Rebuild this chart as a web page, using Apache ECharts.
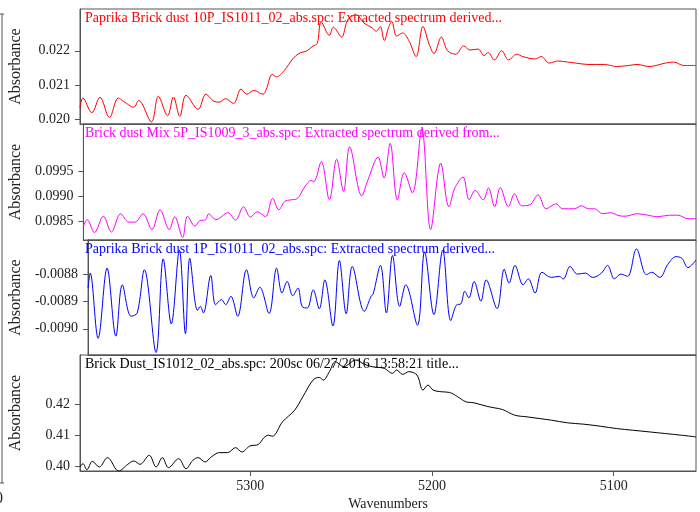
<!DOCTYPE html>
<html>
<head>
<meta charset="utf-8">
<script src="https://cdn.jsdelivr.net/npm/echarts@6/dist/echarts.min.js"></script>
<style>
html, body { margin: 0; padding: 0; background: #fff; }
#chart { width: 700px; height: 512px; }
</style>
</head>
<body>
<div id="chart"></div>
<script>
// spectra: wavenumber + absorbance per trace
var wnRed = [5393.6, 5392.0, 5387.1, 5382.6, 5377.4, 5372.5, 5369.6, 5364.0, 5361.3, 5354.3, 5350.5, 5345.4, 5342.2, 5338.7, 5335.3, 5328.6, 5324.3, 5319.8, 5316.9, 5313.6, 5309.1, 5305.0, 5301.9, 5297.9, 5292.9, 5291.2, 5287.8, 5285.5, 5281.1, 5276.6, 5273.2, 5268.7, 5265.4, 5263.1, 5260.9, 5256.4, 5254.2, 5249.7, 5246.3, 5241.8, 5237.4, 5232.9, 5230.6, 5228.4, 5226.2, 5223.9, 5222.1, 5219.4, 5216.1, 5212.7, 5208.7, 5204.9, 5201.5, 5198.8, 5194.8, 5191.4, 5186.9, 5182.5, 5179.1, 5174.6, 5171.3, 5169.0, 5165.7, 5161.6, 5157.8, 5153.3, 5150.0, 5143.2, 5139.9, 5135.4, 5130.9, 5125.3, 5120.8, 5114.1, 5105.1, 5098.4, 5091.7, 5087.2, 5080.5, 5071.5, 5067.1, 5061.4, 5054.7];
var absRed = [0.02033, 0.02062, 0.02019, 0.02064, 0.02005, 0.02062, 0.02052, 0.02035, 0.02055, 0.01992, 0.02067, 0.02010, 0.02065, 0.02008, 0.02070, 0.02029, 0.02073, 0.02052, 0.02050, 0.02060, 0.02046, 0.02088, 0.02073, 0.02084, 0.02073, 0.02086, 0.02131, 0.02124, 0.02143, 0.02176, 0.02192, 0.02200, 0.02214, 0.02221, 0.02284, 0.02245, 0.02269, 0.02240, 0.02290, 0.02305, 0.02281, 0.02267, 0.02257, 0.02271, 0.02230, 0.02267, 0.02286, 0.02243, 0.02252, 0.02230, 0.02183, 0.02271, 0.02219, 0.02192, 0.02240, 0.02200, 0.02190, 0.02214, 0.02202, 0.02205, 0.02186, 0.02195, 0.02173, 0.02200, 0.02173, 0.02190, 0.02183, 0.02176, 0.02183, 0.02164, 0.02170, 0.02167, 0.02164, 0.02160, 0.02160, 0.02154, 0.02157, 0.02160, 0.02154, 0.02164, 0.02167, 0.02157, 0.02157];

var wnMag = [5393.6, 5391.5, 5387.5, 5382.6, 5378.1, 5373.0, 5368.5, 5365.1, 5360.6, 5355.7, 5351.2, 5346.1, 5343.1, 5338.7, 5336.0, 5331.9, 5329.2, 5325.9, 5324.3, 5320.3, 5313.6, 5309.5, 5305.0, 5301.2, 5297.4, 5292.9, 5288.9, 5285.5, 5282.2, 5278.8, 5275.5, 5271.0, 5267.6, 5266.1, 5262.0, 5257.5, 5253.5, 5249.7, 5246.3, 5239.6, 5236.2, 5230.6, 5227.3, 5223.9, 5219.9, 5216.1, 5211.6, 5206.4, 5201.5, 5195.9, 5191.4, 5188.1, 5183.6, 5180.2, 5176.9, 5172.4, 5169.5, 5166.1, 5163.0, 5158.5, 5155.1, 5151.1, 5146.6, 5142.1, 5137.6, 5132.0, 5128.7, 5121.9, 5118.1, 5114.1, 5110.8, 5106.3, 5101.8, 5097.3, 5093.9, 5087.2, 5082.7, 5076.0, 5069.3, 5064.8, 5059.2, 5054.7];
var absMag = [0.09840, 0.09853, 0.09827, 0.09860, 0.09828, 0.09865, 0.09848, 0.09848, 0.09865, 0.09833, 0.09873, 0.09833, 0.09859, 0.09817, 0.09860, 0.09840, 0.09851, 0.09853, 0.09865, 0.09853, 0.09867, 0.09852, 0.09879, 0.09858, 0.09869, 0.09859, 0.09896, 0.09873, 0.09890, 0.09893, 0.09895, 0.09920, 0.09932, 0.09930, 0.09970, 0.09893, 0.09975, 0.09910, 0.10000, 0.09901, 0.09933, 0.09979, 0.09937, 0.10007, 0.09893, 0.09948, 0.09907, 0.10037, 0.09833, 0.09967, 0.09879, 0.09917, 0.09939, 0.09893, 0.09912, 0.09893, 0.09917, 0.09879, 0.09918, 0.09879, 0.09905, 0.09881, 0.09883, 0.09903, 0.09875, 0.09885, 0.09875, 0.09875, 0.09881, 0.09875, 0.09875, 0.09865, 0.09867, 0.09861, 0.09860, 0.09865, 0.09863, 0.09859, 0.09862, 0.09862, 0.09855, 0.09855];

var wnBlue = [5393.6, 5392.4, 5388.0, 5383.0, 5378.1, 5374.5, 5369.6, 5366.2, 5362.2, 5355.7, 5351.7, 5347.2, 5342.7, 5339.3, 5336.9, 5332.6, 5331.0, 5329.3, 5325.2, 5322.5, 5319.2, 5316.9, 5314.0, 5310.2, 5305.3, 5301.2, 5297.9, 5292.7, 5288.5, 5285.5, 5282.6, 5279.5, 5276.6, 5274.3, 5271.4, 5268.1, 5264.7, 5261.6, 5257.1, 5253.5, 5249.7, 5246.3, 5239.6, 5235.8, 5234.7, 5230.6, 5227.3, 5223.9, 5219.9, 5216.5, 5210.0, 5206.0, 5200.8, 5195.9, 5191.4, 5188.1, 5185.8, 5183.6, 5181.3, 5178.4, 5174.6, 5171.7, 5165.6, 5161.6, 5158.9, 5155.6, 5151.1, 5148.2, 5144.4, 5140.6, 5135.4, 5130.9, 5128.7, 5124.9, 5120.8, 5116.4, 5112.3, 5107.4, 5104.0, 5100.2, 5096.6, 5092.8, 5087.9, 5082.3, 5079.4, 5074.9, 5070.4, 5065.9, 5062.6, 5059.2, 5054.7];
var absBlue = [-0.008851, -0.008796, -0.009035, -0.008778, -0.009027, -0.008839, -0.008954, -0.008942, -0.008784, -0.009087, -0.008744, -0.008982, -0.008712, -0.009018, -0.008742, -0.008933, -0.008918, -0.008942, -0.008805, -0.008912, -0.008893, -0.008912, -0.008881, -0.008954, -0.008784, -0.008887, -0.008848, -0.008944, -0.008778, -0.008869, -0.008827, -0.008879, -0.008851, -0.008918, -0.008924, -0.008857, -0.008927, -0.008821, -0.008990, -0.008750, -0.008945, -0.008772, -0.008936, -0.008881, -0.008873, -0.008768, -0.008942, -0.008732, -0.008918, -0.008839, -0.008987, -0.008718, -0.008948, -0.008712, -0.008970, -0.008912, -0.008909, -0.008863, -0.008887, -0.008827, -0.008899, -0.008821, -0.008926, -0.008782, -0.008833, -0.008768, -0.008839, -0.008817, -0.008869, -0.008793, -0.008812, -0.008808, -0.008818, -0.008772, -0.008800, -0.008796, -0.008812, -0.008796, -0.008768, -0.008817, -0.008800, -0.008808, -0.008708, -0.008802, -0.008793, -0.008812, -0.008764, -0.008736, -0.008742, -0.008776, -0.008748];

var wnBlack = [5393.6, 5392.0, 5389.8, 5386.8, 5383.0, 5378.5, 5372.3, 5367.3, 5364.0, 5360.6, 5355.5, 5351.7, 5348.3, 5344.9, 5339.3, 5335.3, 5331.5, 5328.6, 5324.8, 5321.4, 5316.9, 5312.4, 5308.0, 5304.6, 5300.1, 5295.6, 5292.3, 5290.0, 5287.8, 5282.2, 5275.5, 5271.0, 5265.4, 5262.0, 5259.8, 5256.4, 5253.1, 5248.6, 5241.8, 5237.4, 5232.9, 5226.2, 5221.7, 5219.4, 5216.1, 5212.7, 5208.2, 5204.9, 5202.2, 5199.3, 5194.8, 5190.3, 5185.8, 5181.3, 5176.9, 5170.1, 5165.7, 5161.2, 5154.4, 5147.7, 5141.0, 5134.3, 5125.3, 5116.4, 5107.4, 5098.4, 5089.5, 5080.5, 5071.5, 5062.6, 5054.7];
var absBlack = [0.39978, 0.40086, 0.39892, 0.40161, 0.39978, 0.40280, 0.39849, 0.40065, 0.40172, 0.40065, 0.40355, 0.39978, 0.40280, 0.39957, 0.40247, 0.39925, 0.40194, 0.40280, 0.40140, 0.40301, 0.40441, 0.40441, 0.40602, 0.40462, 0.40656, 0.40699, 0.40925, 0.41000, 0.40968, 0.41430, 0.41806, 0.42237, 0.42774, 0.42860, 0.42774, 0.43043, 0.43366, 0.43204, 0.43419, 0.43290, 0.43204, 0.43151, 0.42989, 0.43097, 0.42957, 0.43043, 0.42935, 0.42452, 0.42613, 0.42452, 0.42398, 0.42376, 0.42237, 0.42075, 0.42043, 0.41935, 0.41882, 0.41828, 0.41645, 0.41591, 0.41538, 0.41484, 0.41398, 0.41355, 0.41290, 0.41215, 0.41161, 0.41108, 0.41054, 0.41000, 0.40946];

var titles = [
    'Paprika Brick dust 10P_IS1011_02_abs.spc: Extracted spectrum derived...',
    'Brick dust Mix 5P_IS1009_3_abs.spc: Extracted spectrum derived from...',
    'Paprika Brick dust 1P_IS1011_02_abs.spc: Extracted spectrum derived...',
    'Brick Dust_IS1012_02_abs.spc: 200sc 06/27/2016 13:58:21 title...'
];
var colors = ['#ff0000', '#ff00ff', '#0000ff', '#000000'];

// tick labels
var xTicks = [5300, 5200, 5100];
var yTicks = [
    [0.020, 0.021, 0.022],
    [0.0985, 0.0990, 0.0995],
    [-0.0090, -0.0089, -0.0088],
    [0.40, 0.41, 0.42]
];
var yDecimals = [3, 4, 4, 2];
var yRange = [[0.01986, 0.02322], [0.09812, 0.10046], [-0.009096, -0.008675], [0.3985, 0.4358]];

var FONT = 'Liberation Serif';

function zip(a, b) {
    var out = [];
    for (var i = 0; i < a.length; i++) out.push([a[i], b[i]]);
    return out;
}
var seriesData = [zip(wnRed, absRed), zip(wnMag, absMag), zip(wnBlue, absBlue), zip(wnBlack, absBlack)];

var gridPos = [[9, 115], [124, 116], [240, 115], [355, 116]];

var grids = [], xAxes = [], yAxes = [], series = [], titleList = [];
for (var i = 0; i < 4; i++) {
    var last = i === 3;
    grids.push({ left: 78, right: 4, top: gridPos[i][0], height: gridPos[i][1], show: true, borderColor: '#555', borderWidth: 1 });
    xAxes.push({
        type: 'value', gridIndex: i, inverse: true, min: 5054.7, max: 5393.6,
        splitLine: { show: false },
        axisLine: { show: true, lineStyle: { color: '#555' } },
        axisTick: { show: last, length: 5, lineStyle: { color: '#555' }, customValues: xTicks },
        axisLabel: {
            show: last, customValues: xTicks, margin: 8, fontFamily: FONT, fontSize: 14, color: '#222',
            formatter: function (v) { return String(v); }
        },
        name: last ? 'Wavenumbers' : '', nameLocation: 'middle', nameGap: 26,
        nameTextStyle: { fontFamily: FONT, fontSize: 14, color: '#222' }
    });
    yAxes.push({
        type: 'value', gridIndex: i, min: yRange[i][0], max: yRange[i][1],
        splitLine: { show: false },
        axisLine: { show: true, lineStyle: { color: '#555' } },
        axisTick: { show: true, length: 5, lineStyle: { color: '#555' }, customValues: yTicks[i] },
        axisLabel: {
            customValues: yTicks[i], margin: 10, fontFamily: FONT, fontSize: 14, color: '#222',
            formatter: (function (d) { return function (v) { return v.toFixed(d); }; })(yDecimals[i])
        },
        name: 'Absorbance', nameLocation: 'middle', nameRotate: 90, nameGap: 56,
        nameTextStyle: { fontFamily: FONT, fontSize: 16, color: '#222' }
    });
    series.push({
        type: 'line', xAxisIndex: i, yAxisIndex: i, data: seriesData[i],
        showSymbol: false, smooth: 0.35, lineStyle: { color: colors[i], width: 1 }
    });
    titleList.push({
        text: titles[i], left: 85, top: gridPos[i][0] + 2, padding: 0,
        textStyle: { fontFamily: FONT, fontSize: 14, fontWeight: 'normal', color: colors[i] }
    });
}

var myChart = echarts.init(document.getElementById('chart'), null, { renderer: 'canvas' });
myChart.setOption({
    animation: false,
    backgroundColor: '#fff',
    title: titleList,
    grid: grids,
    xAxis: xAxes,
    yAxis: yAxes,
    series: series,
    graphic: [
        { type: 'line', shape: { x1: 2, y1: 14, x2: 2, y2: 483 }, style: { stroke: '#555', lineWidth: 1 } },
        { type: 'line', shape: { x1: 0, y1: 14, x2: 4, y2: 14 }, style: { stroke: '#555', lineWidth: 1 } },
        { type: 'line', shape: { x1: 0, y1: 483, x2: 4, y2: 483 }, style: { stroke: '#555', lineWidth: 1 } },
        { type: 'text', left: -5, top: 491, style: { text: '0', fontFamily: FONT, fontSize: 16, fill: '#222' } }
    ]
});
</script>
</body>
</html>
